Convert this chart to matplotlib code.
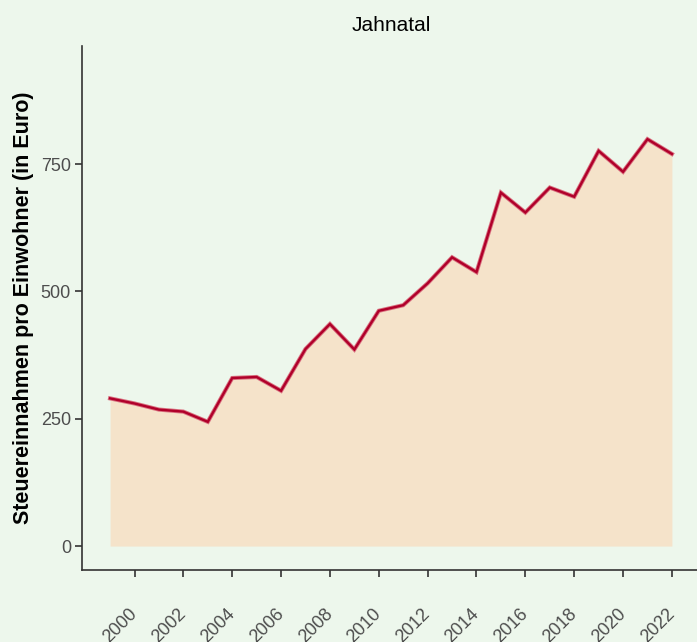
import matplotlib
matplotlib.use("Agg")
import matplotlib.pyplot as plt

years = list(range(1999, 2023))
values = [290, 280, 268, 264, 244, 330, 332, 305, 387, 436, 386, 462,
          473, 516, 567, 538, 694, 655, 704, 686, 776, 735, 799, 770]
x_ticks = list(range(2000, 2023, 2))
y_ticks = [0, 250, 500, 750]
title = "Jahnatal"
ylabel = "Steuereinnahmen pro Einwohner (in Euro)"

bg = "#EDF7EC"
fill_col = "#F5E3CA"
line_col = "#B0002A"

plt.rcParams['font.family'] = ['Liberation Sans', 'DejaVu Sans']

fig = plt.figure(figsize=(6.97, 6.42), dpi=100, facecolor=bg)
ax = fig.add_axes([82/697, 72/642, 618/697, 524/642])
ax.set_facecolor(bg)

ax.fill_between(years, 0, values, color=fill_col, linewidth=0, zorder=1)
ax.plot(years, values, color="#D9707F", linewidth=3.0, zorder=2, solid_joinstyle='miter')
ax.plot(years, values, color=line_col, linewidth=1.7, zorder=3, solid_joinstyle='miter')

ax.set_xlim(1997.85, 2023.15)
ax.set_ylim(-47, 982)
ax.set_xticks(x_ticks)
ax.set_yticks(y_ticks)
ax.set_xticklabels([str(t) for t in x_ticks], rotation=45, ha='right', va='center',
                   rotation_mode='anchor')

ax.tick_params(axis='both', colors='#333333', labelcolor='#4D4D4D', labelsize=13,
               length=5, width=1.2)
ax.tick_params(axis='y', pad=3)
ax.tick_params(axis='x', pad=25)

for s in ['top', 'right']:
    ax.spines[s].set_visible(False)
for s in ['left', 'bottom']:
    ax.spines[s].set_color('#333333')
    ax.spines[s].set_linewidth(1.2)

ax.set_title(title, fontsize=15, color='black', pad=11)
ax.set_ylabel(ylabel, fontsize=15.5, fontweight='bold', color='black', labelpad=5)

fig.savefig("out.png", dpi=100, facecolor=bg)
